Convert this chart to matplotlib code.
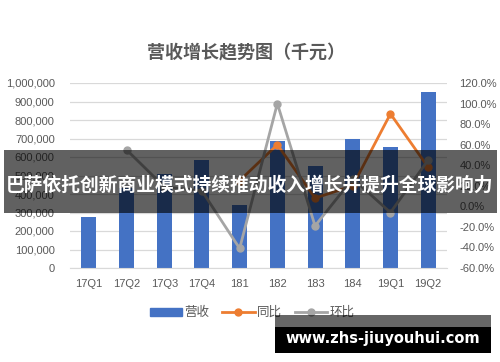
import numpy as np
import matplotlib.pyplot as plt
from matplotlib.patches import Rectangle
from matplotlib.lines import Line2D
from matplotlib.ticker import FuncFormatter

plt.rcParams['font.family'] = ['Liberation Sans', 'Noto Sans CJK SC', 'DejaVu Sans']

# data
quarters = ['17Q1', '17Q2', '17Q3', '17Q4', '181', '182', '183', '184', '19Q1', '19Q2']
revenue = [275000, 430000, 510000, 585000, 340000, 685000, 550000, 700000, 655000, 950000]
yoy = [np.nan, np.nan, np.nan, np.nan, 0.25, 0.60, 0.08, 0.20, 0.90, 0.38]   # 同比
qoq = [np.nan, 0.55, 0.19, 0.15, -0.41, 1.00, -0.19, 0.27, -0.06, 0.45]     # 环比

W, H = 500, 362
BLUE = '#4472C4'
ORANGE = '#ED7D31'
GRAY = '#A5A5A5'
TXT = '#595959'


def fx(px):
    return px / W


def fy(py):
    return 1 - py / H


fig = plt.figure(figsize=(5, 3.62), dpi=100)
ax = fig.add_axes([fx(70), fy(268), fx(447 - 70), (268 - 83) / H])
ax2 = ax.twinx()

x = np.arange(len(quarters))
ax.bar(x, revenue, width=0.4, color=BLUE, zorder=2)
ax.set_xlim(-0.5, len(quarters) - 0.5)
ax.set_ylim(0, 1000000)
ax.set_yticks(np.arange(0, 1000001, 100000))
ax.yaxis.set_major_formatter(FuncFormatter(lambda v, p: f'{int(v):,}'))
ax.set_xticks(x)
ax.set_xticklabels(quarters)
ax.grid(axis='y', color='#D9D9D9', linewidth=0.9, zorder=0)
ax.set_axisbelow(True)

ax2.plot(x, yoy, color=ORANGE, lw=2, marker='o', ms=5, zorder=3)
ax2.plot(x, qoq, color=GRAY, lw=2, marker='o', ms=5, zorder=3)
ax2.set_ylim(-0.6, 1.2)
ax2.set_yticks(np.arange(-0.6, 1.21, 0.2))
ax2.yaxis.set_major_formatter(FuncFormatter(lambda v, p: f'{v * 100:.1f}%'))

for a in (ax, ax2):
    for s in a.spines.values():
        s.set_visible(False)
ax.tick_params(axis='y', length=0, pad=11, labelsize=8, labelcolor=TXT)
ax.tick_params(axis='x', length=0, pad=8, labelsize=8, labelcolor=TXT)
ax2.tick_params(axis='y', length=0, pad=9, labelsize=8, labelcolor=TXT)
ax.spines['bottom'].set_visible(True)
ax.spines['bottom'].set_color('#D9D9D9')

fig.text(fx(246), fy(53), '营收增长趋势图（千元）', ha='center', va='center',
         fontsize=13, color=TXT, fontweight='bold', family=['Noto Sans CJK SC', 'DejaVu Sans'])

handles = [
    Rectangle((0, 0), 1, 1, color=BLUE),
    Line2D([], [], color=ORANGE, lw=2, marker='o', ms=5),
    Line2D([], [], color=GRAY, lw=2, marker='o', ms=5),
]
leg = fig.legend(handles, ['营收', '同比', '环比'], loc='center', bbox_to_anchor=(fx(252), fy(313)),
                 ncol=3, frameon=False, fontsize=9, handlelength=2.6, handleheight=0.6,
                 columnspacing=1.0, handletextpad=0.2)
for t in leg.get_texts():
    t.set_color(TXT)

# overlay banner
fig.patches.append(Rectangle((fx(4), fy(213)), fx(493), (213 - 150) / H, transform=fig.transFigure,
                             facecolor='black', alpha=0.62, zorder=10))
fig.text(fx(250), fy(185), '巴萨依托创新商业模式持续推动收入增长并提升全球影响力', ha='center', va='center',
         fontsize=13.5, color='white', fontweight='bold', zorder=11,
         family=['Noto Sans CJK SC', 'DejaVu Sans'])

# watermark
fig.patches.append(Rectangle((fx(275), fy(353)), fx(216), (353 - 315) / H, transform=fig.transFigure,
                             facecolor='black', alpha=0.6, zorder=10))
fig.patches.append(Rectangle((fx(275), fy(353)), fx(216), (353 - 327) / H, transform=fig.transFigure,
                             facecolor='black', zorder=10))
fig.text(fx(383), fy(338), 'www.zhs-jiuyouhui.com', ha='center', va='center', fontsize=10.5,
         color='white', fontweight='bold', zorder=11, family='DejaVu Sans')

fig.savefig('out.png', dpi=100)
